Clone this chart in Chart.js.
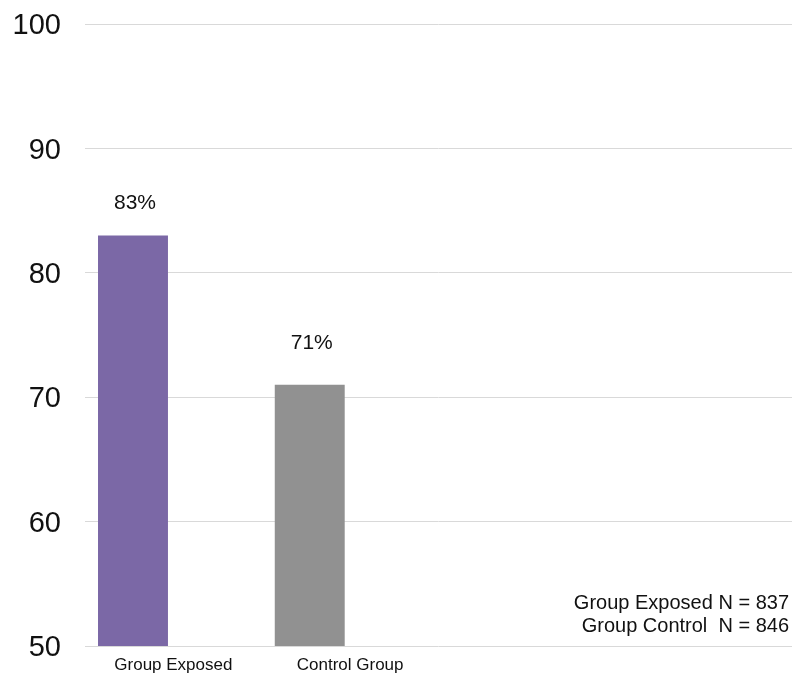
<!DOCTYPE html>
<html>
<head>
<meta charset="utf-8">
<script src="https://cdn.jsdelivr.net/npm/chart.js@4"></script>
<style>
  html, body { margin:0; padding:0; background:#fff; }
  #wrap { width:792px; height:674px; }
</style>
</head>
<body>
<div id="wrap"><canvas id="barChart"></canvas></div>
<script>
const categories = ['Group Exposed', 'Control Group', '', '']
const percentages = [83, 71, null, null]
const barColors = ['#7B68A6', '#919191', '#919191', '#919191']
const yTicks = [50, 60, 70, 80, 90, 100]
const noteLines = ['Group Exposed N = 837', 'Group Control  N = 846']

const fontFamily = 'Helvetica, Arial, "Liberation Sans", sans-serif'

// gap between bar top and its value label
const labelGap = [32, 42]

// value labels above bars + N note bottom right
const extraText = {
  id:'extraText',
  afterDatasetsDraw(chart){
    const ctx = chart.ctx
    const meta = chart.getDatasetMeta(0)
    ctx.save()
    ctx.fillStyle = '#111'
    ctx.textAlign = 'center'
    ctx.textBaseline = 'middle'
    ctx.font = '21px ' + fontFamily
    meta.data.forEach((bar, i)=>{
      if(percentages[i] == null) return
      ctx.fillText(percentages[i] + '%', bar.x + 2, bar.y - labelGap[i])
    })
    ctx.textAlign = 'right'
    ctx.font = '20px ' + fontFamily
    const area = chart.chartArea
    noteLines.forEach((line, i)=>{
      ctx.fillText(line, area.right - 3, area.bottom - 43 + i * 23)
    })
    ctx.restore()
  }
}

new Chart(document.getElementById('barChart'), {
  type:'bar',
  data:{
    labels:categories,
    datasets:[
      {
        data:percentages,
        backgroundColor:barColors,
        borderWidth:0,
        categoryPercentage:0.914,
        barPercentage:0.866
      },
      {
        // empty slot so the bars sit left in their band
        data:[null, null, null, null],
        categoryPercentage:0.914,
        barPercentage:0.866
      }
    ]
  },
  options:{
    responsive:true,
    maintainAspectRatio:false,
    animation:false,
    layout:{ padding:{ top:24, right:0, left:0, bottom:0 } },
    plugins:{
      legend:{ display:false },
      tooltip:{ enabled:false }
    },
    scales:{
      x:{
        afterFit(axis){
          axis.height = 28
        },
        grid:{ display:false, drawTicks:false },
        border:{ display:false },
        ticks:{
          color:'#111',
          font:{ size:17, family:fontFamily },
          padding:9,
          maxRotation:0
        }
      },
      y:{
        min:50,
        max:100,
        afterBuildTicks(axis){
          axis.ticks = yTicks.map(v=>({ value:v }))
        },
        afterFit(axis){
          axis.width = 85
        },
        grid:{
          color:'#d9d9d9',
          lineWidth:1,
          drawTicks:false
        },
        border:{ display:false },
        ticks:{
          color:'#111',
          font:{ size:29, family:fontFamily, lineHeight:0.01 },
          padding:24,
          labelOffset:2
        }
      }
    }
  },
  plugins:[extraText]
})
</script>
</body>
</html>
